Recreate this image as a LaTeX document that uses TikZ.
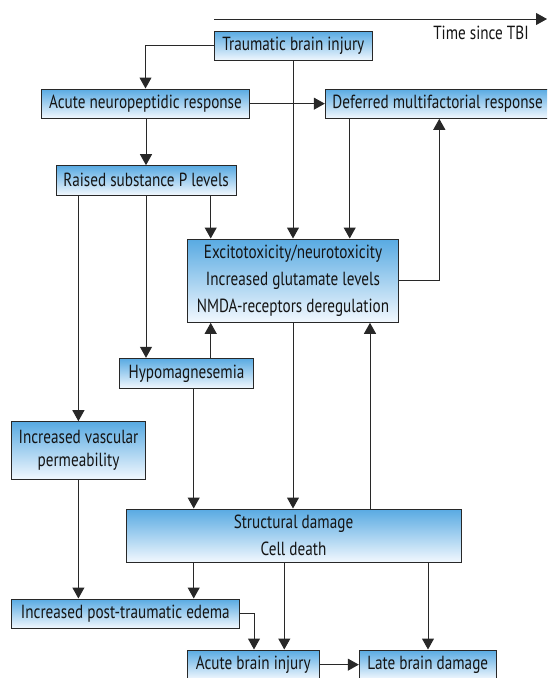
\documentclass[tikz,border=0pt]{standalone}
\usepackage{fontspec}
\setmainfont{PT Sans}[FakeStretch=0.80]
\usetikzlibrary{arrows.meta,calc}
\definecolor{boxtop}{RGB}{88,170,226}
\definecolor{boxbot}{RGB}{242,248,254}
\definecolor{linec}{RGB}{40,40,40}
\definecolor{txtc}{RGB}{20,20,20}
\begin{document}
\begin{tikzpicture}[x=1pt,y=-1pt,
  box/.style={draw=linec, line width=1pt, top color=boxtop, bottom color=boxbot,
    inner sep=0pt, font=\fontsize{19}{27}\selectfont, text=txtc, align=center},
  arr/.style={draw=linec, line width=1pt, -{Triangle[width=12pt,length=11pt]}},
  lbl/.style={font=\fontsize{19}{27}\selectfont, text=txtc}]
\useasboundingbox (0,0) rectangle (547,678);
\clip (0,0) rectangle (547,678);
% boxes
\node[box, minimum width=158pt, minimum height=29.7pt] (tbi) at (293.3,45.85) {Traumatic brain injury};
\node[box, minimum width=207.6pt, minimum height=29.3pt] (anr) at (145.5,103.65) {Acute neuropeptidic response};
\node[box, minimum width=224.7pt, minimum height=29.3pt] (dmr) at (437.65,103.65) {Deferred multifactorial response};
\node[box, minimum width=180.3pt, minimum height=29.3pt] (rsp) at (146.15,180.35) {Raised substance P levels};
\node[box, minimum width=210.6pt, minimum height=83.3pt] (exc) at (293,280.65) {Excitotoxicity/neurotoxicity\\Increased glutamate levels\\NMDA-receptors deregulation};
\node[box, minimum width=134.4pt, minimum height=30pt] (hypo) at (186.5,373.3) {Hypomagnesemia};
\node[box, minimum width=133.6pt, minimum height=57.6pt, font=\fontsize{19}{23}\selectfont] (ivp) at (78.5,450.5) {Increased vascular\\permeability};
\node[box, minimum width=335pt, minimum height=53.3pt] (sd) at (293.5,535.65) {Structural damage\\Cell death};
\node[box, minimum width=227.3pt, minimum height=29.3pt] (edema) at (125.35,613.65) {Increased post-traumatic edema};
\node[box, minimum width=132pt, minimum height=29.3pt] (abi) at (253.3,664.65) {Acute brain injury};
\node[box, minimum width=137pt, minimum height=29.3pt] (lbd) at (427.8,664.65) {Late brain damage};
% time axis
\coordinate (t0) at (214,19);
\coordinate (t1) at (547,19);
\draw[arr] (t0) -- (t1);
\node[lbl] (tl) at (481,33) {Time since TBI};
% column coordinates
\coordinate (cA) at (78.4,0);
\coordinate (cB) at (146,0);
\coordinate (cC) at (193.7,0);
\coordinate (cD) at (210.7,0);
\coordinate (cE) at (293,0);
\coordinate (cF) at (349.7,0);
\coordinate (cG) at (370,0);
\coordinate (cH) at (439.3,0);
\coordinate (cI) at (284.3,0);
\coordinate (cJ) at (428,0);
\coordinate (cK) at (254,0);
% connectors
\draw[arr] (tbi.west) -| (anr.north);
\draw[arr] (anr.east) -- (anr.east -| dmr.west);
\draw[arr] (anr.south -| cB) -- (rsp.north -| cB);
\draw[arr] (tbi.south -| cE) -- (exc.north -| cE);
\draw[arr] (dmr.south -| cF) -- (exc.north -| cF);
\draw[arr] (rsp.south -| cD) -- (exc.north -| cD);
\draw[arr] (rsp.south -| cB) -- (hypo.north -| cB);
\draw[arr] (rsp.south -| cA) -- (ivp.north -| cA);
\draw[arr] (hypo.north -| cD) -- (exc.south -| cD);
\draw[arr] (exc.east) -| (dmr.south -| cH);
\draw[arr] (exc.south -| cE) -- (sd.north -| cE);
\draw[arr] (sd.north -| cG) -- (exc.south -| cG);
\draw[arr] (hypo.south -| cC) -- (sd.north -| cC);
\draw[arr] (sd.south -| cC) -- (edema.north -| cC);
\draw[arr] (ivp.south -| cA) -- (edema.north -| cA);
\draw[arr] (edema.east) -| (abi.north -| cK);
\draw[arr] (sd.south -| cI) -- (abi.north -| cI);
\draw[arr] (sd.south -| cJ) -- (lbd.north -| cJ);
\draw[arr] (abi.east) -- (lbd.west);
\end{tikzpicture}
\end{document}
